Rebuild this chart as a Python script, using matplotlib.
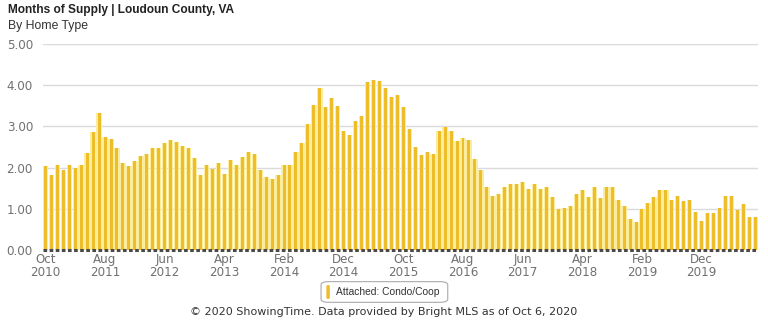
"""Months of supply bar chart for attached homes in Loudoun County."""

import matplotlib.pyplot as plt
import numpy as np
from matplotlib.patches import FancyBboxPatch

# Monthly months-of-supply values, Oct 2010 through Sep 2020
supply_values = [
    2.03, 1.82, 2.07, 1.93, 2.07, 1.99, 2.06, 2.36, 2.86, 3.32,
    2.75, 2.70, 2.47, 2.11, 2.03, 2.17, 2.29, 2.34, 2.48, 2.48,
    2.59, 2.67, 2.61, 2.52, 2.48, 2.23, 1.82, 2.07, 1.96, 2.11,
    1.85, 2.18, 2.07, 2.25, 2.38, 2.34, 1.93, 1.77, 1.73, 1.82,
    2.06, 2.06, 2.38, 2.60, 3.06, 3.52, 3.93, 3.48, 3.70, 3.50,
    2.88, 2.79, 3.13, 3.26, 4.07, 4.12, 4.10, 3.93, 3.71, 3.76,
    3.48, 2.94, 2.51, 2.31, 2.37, 2.34, 2.88, 2.99, 2.89, 2.65,
    2.71, 2.67, 2.20, 1.94, 1.53, 1.32, 1.37, 1.53, 1.60, 1.60,
    1.66, 1.48, 1.60, 1.48, 1.53, 1.29, 1.00, 1.03, 1.08, 1.37,
    1.46, 1.29, 1.52, 1.25, 1.53, 1.53, 1.21, 1.08, 0.75, 0.68,
    0.99, 1.15, 1.29, 1.46, 1.46, 1.22, 1.32, 1.20, 1.22, 0.93,
    0.70, 0.90, 0.90, 1.03, 1.30, 1.30, 0.96, 1.11, 0.79, 0.79,
]
tick_positions = [0, 10, 20, 30, 40, 50, 60, 70, 80, 90, 100, 110]
tick_labels = [
    "Oct\n2010", "Aug\n2011", "Jun\n2012", "Apr\n2013",
    "Feb\n2014", "Dec\n2014", "Oct\n2015", "Aug\n2016",
    "Jun\n2017", "Apr\n2018", "Feb\n2019", "Dec\n2019",
]
y_ticks = [0, 1, 2, 3, 4, 5]
series_name = "Attached: Condo/Coop"

GOLD = "#eebd2a"
PALE = "#fcec9e"
GRID = "#dadada"
TEXT_GRAY = "#707070"

figure = plt.figure(figsize=(7.68, 3.23), dpi=100)
axis = figure.add_axes([0.0556, 0.226, 0.9314, 0.6378])

x = np.arange(len(supply_values))
axis.bar(x, supply_values, width=0.9, color=PALE, zorder=2)
axis.bar(x, supply_values, width=0.5, color=GOLD, zorder=3)

axis.set_xlim(-0.45, len(supply_values) - 0.55)
axis.set_ylim(0, 5)
axis.set_yticks(y_ticks)
axis.set_yticklabels([f"{v:.2f}" for v in y_ticks])
axis.set_xticks(tick_positions)
axis.set_xticklabels(tick_labels, linespacing=1.0)
axis.tick_params(axis="both", length=0, labelsize=8.6, labelcolor=TEXT_GRAY)
axis.tick_params(axis="y", pad=7)
axis.tick_params(axis="x", pad=2)

for value in y_ticks[1:]:
    axis.axhline(value, color=GRID, linewidth=1, zorder=1)
axis.axhline(0, color="#4a4a4a", linewidth=2.2, linestyle=(0, (1.2, 0.8)),
             zorder=4, clip_on=False)

for spine in axis.spines.values():
    spine.set_visible(False)

figure.text(0.0104, 0.988, "Months of Supply | Loudoun County, VA",
            fontsize=8.6, fontweight="bold", family="Liberation Sans",
            color="#222222", va="top")
figure.text(0.0104, 0.938, "By Home Type", fontsize=8.8,
            family="Liberation Sans", color="#333333", va="top")

# Legend box with a small rounded bar marker
legend_box = FancyBboxPatch((0.418, 0.064), 0.165, 0.064,
                            boxstyle="round,pad=0,rounding_size=0.01",
                            transform=figure.transFigure, facecolor="white",
                            edgecolor="#aaaaaa", linewidth=0.8)
figure.patches.append(legend_box)
marker = FancyBboxPatch((0.4255, 0.076), 0.0035, 0.04,
                        boxstyle="round,pad=0,rounding_size=0.002",
                        transform=figure.transFigure, facecolor=GOLD,
                        edgecolor=GOLD, linewidth=0.5)
figure.patches.append(marker)
figure.text(0.4375, 0.096, series_name, fontsize=7.4, family="Liberation Sans",
            color="#333333", va="center")

figure.text(0.5, 0.035,
            "\u00a9 2020 ShowingTime. Data provided by Bright MLS as of Oct 6, 2020",
            fontsize=8, color="#333333", ha="center", va="center")

figure.savefig("out.png", dpi=100)
plt.close(figure)
